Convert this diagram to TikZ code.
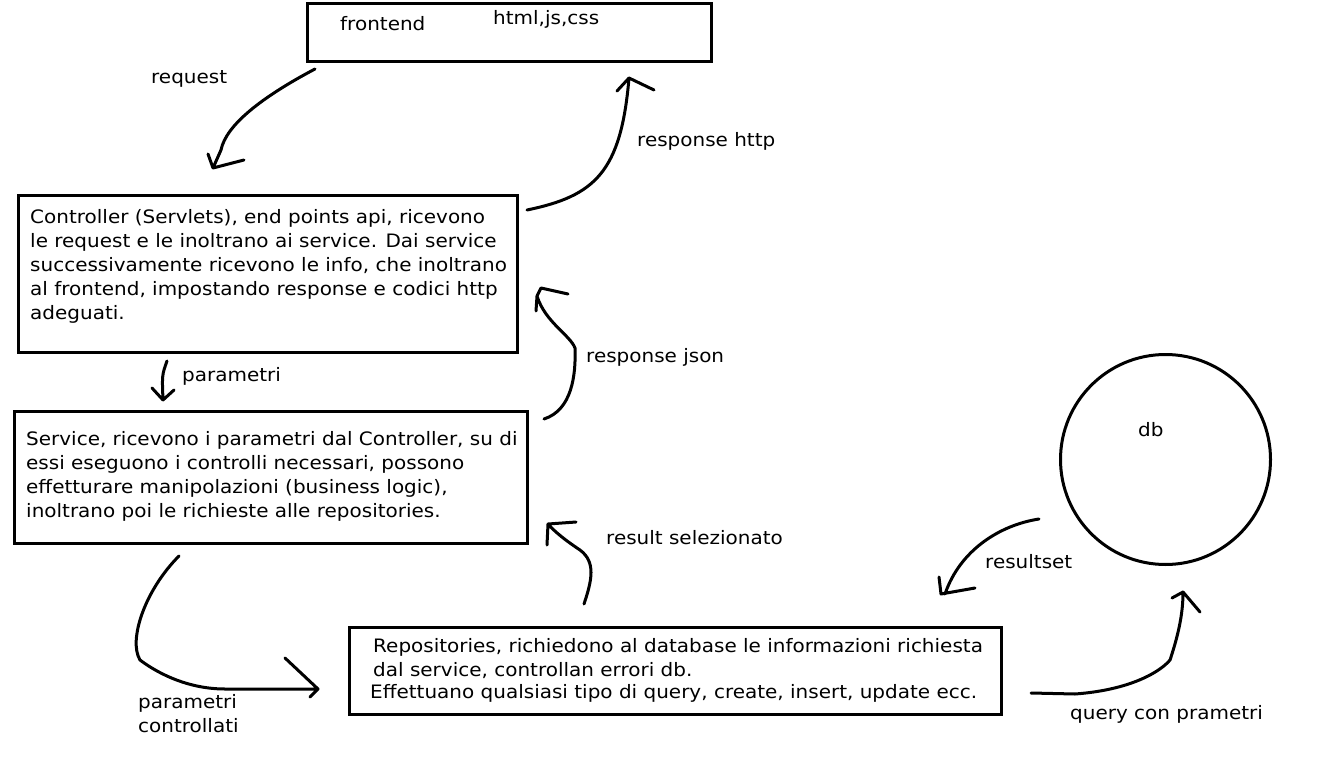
\documentclass[tikz,border=0pt]{standalone}
\usepackage{fontspec}
\setmainfont{DejaVu Sans}[FakeStretch=1.08]
\begin{document}
\begin{tikzpicture}[x=1pt,y=-1pt,
  box/.style={draw, line width=3pt, inner sep=0pt},
  lbl/.style={anchor=base west, inner sep=0pt, font=\fontsize{18.5}{24}\selectfont},
  para/.style={anchor=north west, inner sep=0pt, font=\fontsize{18.5}{24}\selectfont, align=left},
  stroke/.style={line width=3pt, line cap=round, line join=round}]
\useasboundingbox (0,0) rectangle (1329,783);
% boxes
\node[box, minimum width=404pt, minimum height=58pt] (fe) at (509,33) {};
\node[box, minimum width=499pt, minimum height=156pt] (ctrl) at (267.5,274) {};
\node[box, minimum width=513pt, minimum height=132pt] (serv) at (270.5,477) {};
\node[box, minimum width=652pt, minimum height=87pt] (repo) at (675,670.5) {};
\node[box, circle, minimum size=210pt] (db) at (1165.5,459.5) {};
% texts
\node[lbl] (tfe) at (340,31) {frontend};
\node[lbl] (thtml) at (493,25) {html,js,css};
\node[para] (tctrl) at (30,209) {Controller (Servlets), end points api, ricevono\\le request e le inoltrano ai service. Dai service\\successivamente ricevono le info, che inoltrano\\al frontend, impostando response e codici http\\adeguati.};
\node[para] (tserv) at (26,431) {Service, ricevono i parametri dal Controller, su di\\essi eseguono i controlli necessari, possono\\effetturare manipolazioni (business logic),\\inoltrano poi le richieste alle repositories.};
\node[lbl] (trepo1) at (373,652) {Repositories, richiedono al database le informazioni richiesta};
\node[lbl] (trepo2) at (373,676) {dal service, controllan errori db.};
\node[lbl] (trepo3) at (370,698) {Effettuano qualsiasi tipo di query, create, insert, update ecc.};
\node[lbl] (tdb) at (1138,436) {db};
% connector labels
\node[lbl] (lreq) at (151,84) {request};
\node[lbl] (lhttp) at (637,147) {response http};
\node[lbl] (lpar) at (182,381) {parametri};
\node[lbl] (ljson) at (586,362) {response json};
\node[lbl] (lres) at (606,544) {result selezionato};
\node[para] (lparc) at (138,694) {parametri\\controllati};
\node[lbl] (lrs) at (985,568) {resultset};
\node[lbl] (lq) at (1070,719) {query con prametri};
% connector end points
\coordinate (a1) at (315,69);   \coordinate (a2) at (213,168);
\coordinate (b1) at (527,210);  \coordinate (b2) at (629,78);
\coordinate (c1) at (167,361);  \coordinate (c2) at (163,400);
\coordinate (d1) at (544,419);  \coordinate (d2) at (537,296);
\coordinate (e1) at (584,604);  \coordinate (e2) at (548,524);
\coordinate (f1) at (179,556);  \coordinate (f2) at (318,689);
\coordinate (g1) at (1039,519); \coordinate (g2) at (945,594);
\coordinate (h1) at (1031,693); \coordinate (h2) at (1183,592);
% connectors
\draw[stroke] (a1) .. controls (262,97) and (226,125) .. (221,150) -- (a2)
  (208,154) -- (a2) -- (244,160);
\draw[stroke] (b1) .. controls (595,196) and (621,172) .. (b2)
  (617,91) -- (b2) -- (654,90);
\draw[stroke] (c1) .. controls (162,375) .. (c2)
  (152,388) -- (c2) -- (174,390);
\draw[stroke] (d1) .. controls (572,410) and (576,375) .. (575,348)
  .. controls (570,335) and (545,322) .. (d2)
  (536,311) -- (d2) -- (541,288) -- (568,294);
\draw[stroke] (e1) .. controls (592,580) and (596,562) .. (580,550)
  .. controls (565,540) and (555,532) .. (e2)
  (547,545) -- (e2) -- (576,522);
\draw[stroke] (f1) .. controls (145,590) and (128,640) .. (140,660)
  .. controls (160,675) and (190,689) .. (225,689) -- (f2)
  (285,658) -- (f2) -- (310,697);
\draw[stroke] (g1) .. controls (1000,525) and (960,550) .. (g2)
  (939,577) -- (941,594) -- (975,588);
\draw[stroke] (h1) -- (1075,694) .. controls (1130,690) and (1160,672) .. (1170,660)
  .. controls (1180,630) and (1183,610) .. (h2)
  (1172,598) -- (h2) -- (1200,612);
\end{tikzpicture}
\end{document}
